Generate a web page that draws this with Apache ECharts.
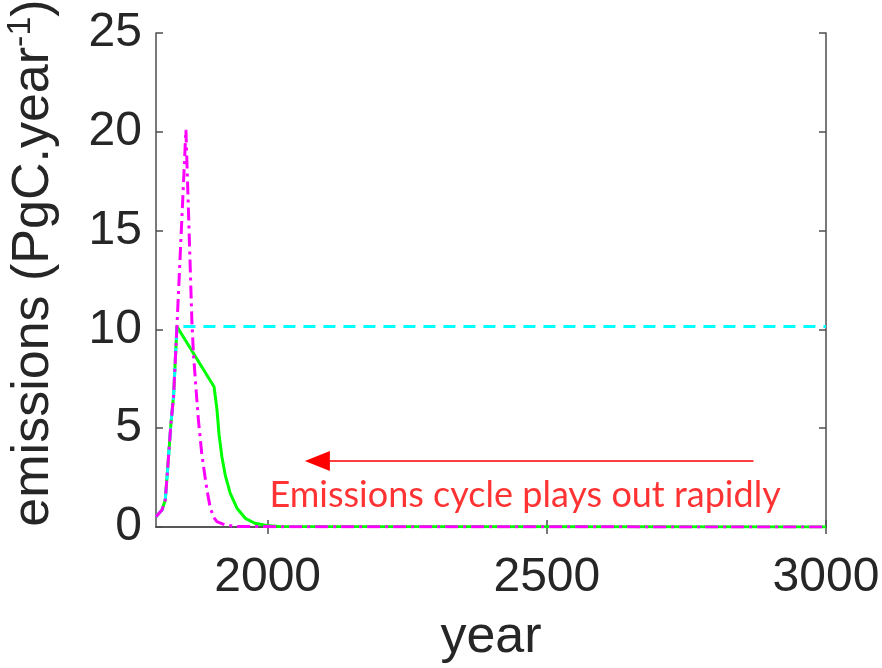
<!DOCTYPE html>
<html>
<head>
<meta charset="utf-8">
<script src="https://cdn.jsdelivr.net/npm/echarts@6/dist/echarts.min.js"></script>
<style>
  html, body { margin: 0; padding: 0; background: #fff; }
  #chart { width: 882px; height: 668px; }
</style>
</head>
<body>
<div id="chart"></div>
<script>
// Emission pathways (PgC per year)
const riseYears  = [1800, 1810.7, 1816.6, 1821, 1826.8, 1831.4, 1837.5];
const riseValues = [0.52, 0.86, 1.37, 3.0, 5.25, 6.6, 10.15];

// constant emissions after the peak
const constYears  = [3000];
const constValues = [10.15];

// linear decline, then fast decay
const declineYears  = [1904, 1909, 1913, 1918, 1924, 1933, 1945, 1960, 1977, 1998, 2020, 3000];
const declineValues = [7.1, 6.0, 4.66, 3.56, 2.63, 1.7, 0.95, 0.44, 0.19, 0.08, 0.02, 0];

// steep overshoot to a peak, then collapse
const pulseYears  = [1853.6, 1864.3, 1867, 1871.4, 1876, 1882, 1888, 1893, 1897, 1903, 1909, 1924, 1945, 3000];
const pulseValues = [20.1, 10.4, 8.8, 7.1, 5.4, 3.7, 2.5, 1.6, 1.0, 0.5, 0.27, 0.1, 0.02, 0];

const xTicks = [2000, 2500, 3000];

const note = 'Emissions cycle plays out rapidly';
const arrowFrom = [2870, 3.34];
const arrowTo   = [2089, 3.34];
const notePos   = [2461, 1.62];

function pairs(xs, ys) { return xs.map((x, i) => [x, ys[i]]); }

const cyanData    = pairs(riseYears.concat(constYears), riseValues.concat(constValues));
const greenData   = pairs(riseYears.concat(declineYears), riseValues.concat(declineValues));
const magentaData = pairs(riseYears.concat(pulseYears), riseValues.concat(pulseValues));

const axisColor = '#4d4d4d';
const textColor = '#262626';
const font = 'Liberation Sans, Arial, Helvetica, sans-serif';

const chart = echarts.init(document.getElementById('chart'), null, { renderer: 'canvas' });

chart.setOption({
  animation: false,
  backgroundColor: '#ffffff',
  grid: { left: 156, right: 56, top: 33, bottom: 141, containLabel: false, outerBoundsMode: 'none' },
  xAxis: [
    {
      type: 'value', min: 1800, max: 3000, position: 'bottom',
      name: 'year', nameLocation: 'middle', nameGap: 85,
      nameTextStyle: { fontSize: 52, color: textColor, fontFamily: font },
      axisLine: { show: true, lineStyle: { color: axisColor, width: 1.5 } },
      axisTick: { show: true, inside: true, length: 7, customValues: xTicks, lineStyle: { color: axisColor, width: 1.5 } },
      axisLabel: { customValues: xTicks, formatter: v => String(v), fontSize: 48, color: textColor, fontFamily: font, margin: 27 },
      splitLine: { show: false }
    },
    {
      type: 'value', min: 1800, max: 3000, position: 'top',
      axisLine: { show: true, lineStyle: { color: axisColor, width: 1.5 } },
      axisTick: { show: true, inside: true, length: 7, customValues: xTicks, lineStyle: { color: axisColor, width: 1.5 } },
      axisLabel: { show: false },
      splitLine: { show: false }
    }
  ],
  yAxis: [
    {
      type: 'value', min: 0, max: 25, interval: 5, position: 'left',
      name: '{a|emissions (PgC.year}{s|-1}{a|)}',
      nameLocation: 'middle', nameGap: 92, nameRotate: 90,
      nameTextStyle: {
        color: textColor, fontFamily: font, padding: [0, 0, 0, 34],
        rich: {
          a: { fontSize: 52, color: textColor, fontFamily: font, lineHeight: 60 },
          s: { fontSize: 34, color: textColor, fontFamily: font, verticalAlign: 'top', lineHeight: 60, padding: [0, 0, 16, 0] }
        }
      },
      axisLine: { show: true, lineStyle: { color: axisColor, width: 1.5 } },
      axisTick: { show: true, inside: true, length: 7, lineStyle: { color: axisColor, width: 1.5 } },
      axisLabel: { fontSize: 48, color: textColor, fontFamily: font, margin: 14 },
      splitLine: { show: false }
    },
    {
      type: 'value', min: 0, max: 25, interval: 5, position: 'right',
      axisLine: { show: true, lineStyle: { color: axisColor, width: 1.5 } },
      axisTick: { show: true, inside: true, length: 7, lineStyle: { color: axisColor, width: 1.5 } },
      axisLabel: { show: false },
      splitLine: { show: false }
    }
  ],
  series: [
    {
      name: 'decline', type: 'line', data: greenData, showSymbol: false, z: 2,
      lineStyle: { color: '#00ff00', width: 3, type: 'solid' }
    },
    {
      name: 'constant', type: 'line', data: cyanData, showSymbol: false, z: 3,
      lineStyle: { color: '#00ffff', width: 3, type: [12, 8] }
    },
    {
      name: 'pulse', type: 'line', data: magentaData, showSymbol: false, z: 4,
      lineStyle: { color: '#ff00ff', width: 3, type: [13, 5, 3, 5] }
    },
    {
      name: 'note', type: 'scatter', data: [notePos], symbolSize: 0, z: 5,
      label: {
        show: true, position: 'inside', formatter: note,
        fontSize: 36, color: '#ff0000', fontFamily: 'Lato, Open Sans, sans-serif'
      },
      markLine: {
        silent: true, animation: false,
        symbol: ['none', 'triangle'], symbolSize: [20, 25],
        lineStyle: { color: '#ff0000', width: 1.5, type: 'solid' },
        label: { show: false },
        data: [[{ coord: arrowFrom }, { coord: arrowTo }]]
      }
    }
  ]
});
</script>
</body>
</html>
